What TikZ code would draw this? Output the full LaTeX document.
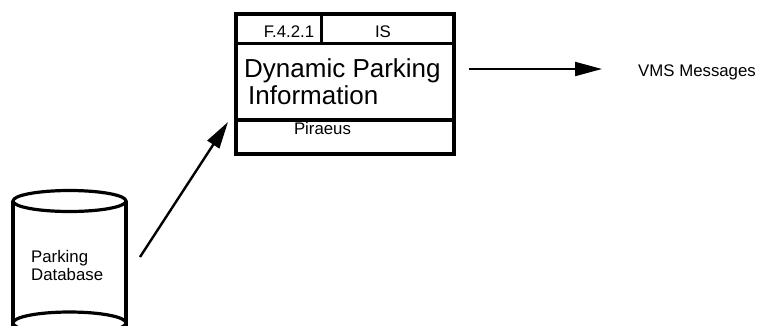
\documentclass[tikz,border=0pt]{standalone}
\usepackage{fontspec}
\setmainfont{Liberation Sans}
\usetikzlibrary{arrows.meta}
\begin{document}
\begin{tikzpicture}[x=1pt,y=-1pt,
  frame/.style={line width=3.2pt},
  divider/.style={line width=3.8pt},
  flow/.style={line width=2.4pt,-{Triangle[length=27pt,width=14pt]}},
  small/.style={font=\fontsize{16.8}{18}\selectfont, inner sep=0pt},
  big/.style={font=\fontsize{26}{26}\selectfont, inner sep=0pt}]
\clip (0,0) rectangle (762,325);

% process box with its header row and footer
\node[draw, frame, minimum width=218pt, minimum height=140pt, inner sep=0pt] (proc) at (345,84) {};
\draw[divider] (proc.west |- 0,43.5) -- (proc.east |- 0,43.5);
\draw[divider] (321.5,14) -- (321.5,43.5);
\draw[divider] (proc.west |- 0,120) -- (proc.east |- 0,120);
\node[small, anchor=base] (fid) at (289,37) {F.4.2.1};
\node[small, anchor=base] (ftype) at (383,37) {IS};
\node[big, anchor=base west] (title1) at (244,77) {Dynamic Parking};
\node[big, anchor=base west] (title2) at (248,104) {Information};
\node[small, anchor=base] (site) at (322.5,134) {Piraeus};

% data store drawn as a cylinder
\draw[frame] (69.5,201) ellipse [x radius=56.5pt, y radius=10.5pt];
\draw[frame] (13,201) -- (13,330);
\draw[frame] (126,201) -- (126,330);
\draw[frame] (69.5,323) ellipse [x radius=56.5pt, y radius=11pt];
\node[small, anchor=base west] (db1) at (31,262) {Parking};
\node[small, anchor=base west] (db2) at (31,280) {Database};

% output label
\node[small, anchor=base west] (vms) at (638,76) {VMS Messages};

% flows
\coordinate (dbport) at (140,257);
\coordinate (procin) at (228,122);
\draw[flow] (dbport) -- (procin);
\coordinate (procout) at (469,69);
\coordinate (vmsin) at (602,69);
\draw[flow, line width=2pt] (procout) -- (vmsin);
\end{tikzpicture}
\end{document}
